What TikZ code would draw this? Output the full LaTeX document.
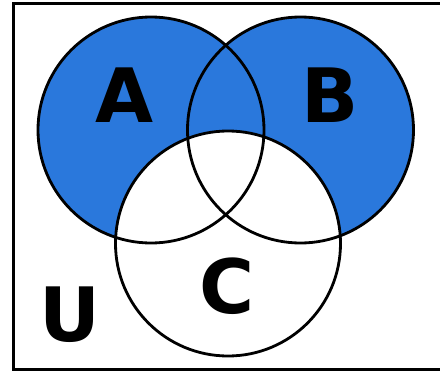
\documentclass[tikz,border=0pt]{standalone}
\usepackage{fontspec}
\setmainfont{DejaVu Sans}
\definecolor{setblue}{HTML}{2A78DC}
\begin{document}
\begin{tikzpicture}[x=1pt,y=-1pt,
  setline/.style={draw=black,line width=2.8pt},
  setlabel/.style={font=\bfseries\fontsize{75}{75}\selectfont,inner sep=0pt,anchor=base}]
  \useasboundingbox (0,0) rectangle (440,375);
  % universe frame
  \draw[line width=3pt] (13,3.5) rectangle (450,369.5);
  % circle centres
  \coordinate (ca) at (151,130);
  \coordinate (cb) at (300.5,130);
  \coordinate (cc) at (228,243.5);
  % shaded region: (A union B) minus C
  \fill[setblue] (ca) circle[radius=113];
  \fill[setblue] (cb) circle[radius=113];
  \fill[white] (cc) circle[radius=112.5];
  % outlines
  \draw[setline] (ca) circle[radius=113];
  \draw[setline] (cb) circle[radius=113];
  \draw[setline] (cc) circle[radius=112.5];
  % labels
  \node[setlabel] (la) at (125,122) {A};
  \node[setlabel] (lb) at (330,122) {B};
  \node[setlabel] (lc) at (227,313) {C};
  \node[setlabel] (lu) at (70,341) {U};
\end{tikzpicture}
\end{document}
